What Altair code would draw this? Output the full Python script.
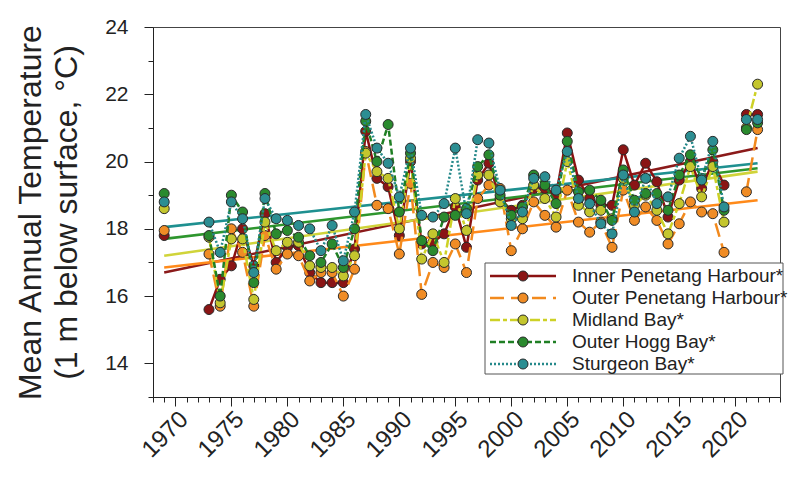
import altair as alt
import pandas as pd

FONT = "Liberation Sans"

years = [1969] + list(range(1973, 2020)) + [2021, 2022]

series_names = ["Inner Penetang Harbour*", "Outer Penetang Harbour*", "Midland Bay*",
                "Outer Hogg Bay*", "Sturgeon Bay*"]

inner = [17.8, 15.6, 16.5, 16.9, 18.0, 16.9, 18.45, 17.0,
         17.45, 17.5, 16.7, 16.4, 16.4, 16.4, 17.4, 20.9, 19.5, 19.25,
         17.8, 20.0, 17.55, 17.6, 17.85, 18.65, 17.45, 19.45, 19.95, 18.9,
         18.55, 18.7, 19.2, 19.2, 19.0, 20.85, 19.45, 18.9, 18.7, 18.7,
         20.35, 19.3, 19.95, 19.4, 18.35, 19.45, 20.0, 19.2, 20.0, 19.3,
         21.4, 21.4]
outer = [17.95, 17.25, 15.7, 18.0, 17.3, 15.7, 17.8, 16.8,
         17.25, 17.2, 16.45, 16.7, 16.7, 16.0, 16.8, 20.3, 18.7, 18.6,
         17.25, 19.35, 16.05, 17.0, 16.85, 17.55, 16.7, 18.9, 19.3, 19.2,
         17.35, 18.0, 18.8, 18.4, 18.05, 19.15, 18.2, 17.9, 18.2, 17.45,
         19.15, 18.25, 18.65, 18.25, 17.55, 18.15, 18.8, 18.5, 18.45, 17.3,
         19.1, 20.95]
midland = [18.6, 17.75, 15.8, 17.7, 17.7, 15.9, 18.2, 17.35,
           17.6, 17.6, 16.9, 16.85, 16.85, 16.6, 17.2, 20.25, 19.7, 19.5,
           18.0, 20.1, 17.1, 17.85, 17.0, 18.9, 17.95, 19.6, 19.6, 18.8,
           18.3, 18.3, 19.3, 18.9, 18.35, 20.0, 18.7, 18.5, 18.55, 18.3,
           19.5, 18.7, 19.0, 18.55, 17.85, 18.75, 19.85, 18.95, 19.85, 18.2,
           21.0, 22.3]
hogg = [19.05, 17.8, 16.0, 19.0, 18.5, 16.4, 19.05, 17.85,
        17.95, 17.75, 17.2, 17.0, 17.55, 16.85, 18.0, 21.2, 20.0, 21.1,
        18.5, 20.25, 17.65, 17.35, 18.35, 18.4, 18.6, 19.85, 20.2, 19.0,
        18.4, 18.65, 19.6, 19.3, 18.75, 20.6, 19.1, 19.15, 18.85, 18.25,
        19.75, 18.85, 19.05, 19.05, 18.55, 19.6, 20.2, 19.5, 20.35, 18.55,
        20.95, 21.15]
sturgeon = [18.8, 18.2, 17.3, 18.8, 18.3, 16.7, 18.9, 18.3,
            18.25, 18.1, 18.0, 17.35, 18.1, 17.05, 18.5, 21.4, 20.4, 19.95,
            18.95, 20.4, 18.4, 18.35, 18.75, 20.4, 18.45, 20.65, 20.55, 19.15,
            18.1, 18.5, 19.5, 19.55, 19.15, 20.3, 18.9, 18.75, 18.15, 17.85,
            19.6, 18.5, 19.5, 18.75, 18.95, 20.1, 20.75, 19.45, 20.6, 18.65,
            21.25, 21.25]

# trend line end points (1969 and 2022)
trend_years = [1969, 2022]
trend_start = [16.7, 16.85, 17.2, 17.7, 18.05]
trend_end = [20.4, 18.85, 19.7, 19.8, 19.95]

line_colors = ["#8B1111", "#F28A1E", "#CDD126", "#1F7F24", "#25898A"]
marker_colors = ["#8A1515", "#F08C25", "#C4C62E", "#2A8A2E", "#2C8E92"]
trend_colors = ["#8B1A1A", "#FF8A1A", "#D0D43A", "#2E962E", "#1E9090"]
dashes = [[1, 0], [14, 7], [10, 3, 4, 3], [6, 3], [2, 2]]

all_values = [inner, outer, midland, hogg, sturgeon]


def seg(y):
    if y < 1973:
        return "a"
    if y < 2020:
        return "b"
    return "c"


rows = []
for name, vals in zip(series_names, all_values):
    for yr, v in zip(years, vals):
        rows.append({"year": yr, "temp": v, "series": name, "seg": seg(yr)})
df = pd.DataFrame(rows)

trows = []
for name, a, b in zip(series_names, trend_start, trend_end):
    trows.append({"year": trend_years[0], "temp": a, "series": name})
    trows.append({"year": trend_years[1], "temp": b, "series": name})
tdf = pd.DataFrame(trows)

xscale = alt.Scale(domain=[1968, 2024], nice=False, zero=False)
yscale = alt.Scale(domain=[13, 24], nice=False, zero=False)

xaxis = alt.Axis(
    values=list(range(1968, 2025)),
    labelExpr="datum.value % 5 == 0 ? datum.value : ''",
    tickSize={"condition": {"test": "datum.value % 5 == 0", "value": 9}, "value": 5},
    labelAngle=-45, labelAlign="right", labelBaseline="top",
    labelFontSize=24, labelFont=FONT, labelColor="#222", labelPadding=1,
    labelOverlap=False, labelFlush=False,
    grid=False, title=None, domainColor="#222", tickColor="#222",
)
yaxis = alt.Axis(
    values=list(range(13, 25)),
    labelExpr="datum.value % 2 == 0 && datum.value >= 14 ? datum.value : ''",
    tickSize={"condition": {"test": "datum.value % 2 == 0", "value": 9}, "value": 5},
    labelFontSize=21, labelFont=FONT, labelColor="#222", labelPadding=16,
    labelOverlap=False, labelFlush=False,
    grid=False, domainColor="#222", tickColor="#222",
    title=["Mean Annual Temperature", "(1 m below surface, \u00b0C)"],
    titleFont=FONT, titleFontSize=32, titleFontWeight="normal", titleColor="#222",
    titlePadding=21, titleLineHeight=36,
)

X = alt.X("year:Q", scale=xscale, axis=xaxis)
Y = alt.Y("temp:Q", scale=yscale, axis=yaxis)

layers = []

trend = alt.Chart(tdf).mark_line(strokeWidth=2.6).encode(
    x=X, y=Y,
    color=alt.Color("series:N", scale=alt.Scale(domain=series_names, range=trend_colors), legend=None),
)
layers.append(trend)

for i, name in enumerate(series_names):
    sub = df[df["series"] == name]
    ln = alt.Chart(sub).mark_line(
        color=line_colors[i], strokeDash=dashes[i], strokeWidth=2.5
    ).encode(x=X, y=Y, detail="seg:N")
    pt = alt.Chart(sub).mark_circle(
        size=100, color=marker_colors[i], opacity=1, stroke="#2a2a2a", strokeWidth=1
    ).encode(x=X, y=Y)
    layers += [ln, pt]

# legend overlay
dummy = pd.DataFrame({"k": [0]})
box = alt.Chart(dummy).mark_rect(fill="white", stroke="#555", strokeWidth=1).encode(
    x=alt.value(332), x2=alt.value(630), y=alt.value(236), y2=alt.value(347)
)
layers.append(box)
for i, name in enumerate(series_names):
    yy = 249 + i * 22
    layers.append(alt.Chart(dummy).mark_rule(
        color=line_colors[i], strokeDash=dashes[i], strokeWidth=2.5
    ).encode(x=alt.value(337), x2=alt.value(403), y=alt.value(yy)))
    layers.append(alt.Chart(dummy).mark_circle(
        size=100, color=marker_colors[i], opacity=1, stroke="#2a2a2a", strokeWidth=1
    ).encode(x=alt.value(370), y=alt.value(yy)))
    layers.append(alt.Chart(dummy).mark_text(
        align="left", baseline="middle", fontSize=19, font=FONT, color="#222"
    ).encode(x=alt.value(419), y=alt.value(yy), text=alt.value(name)))

chart = alt.layer(*layers).properties(
    width=627, height=370,
    padding={"left": 145, "top": 19, "right": 12, "bottom": 73},
    autosize=alt.AutoSizeParams(type="none"),
    background="white",
).configure_view(stroke="#444", strokeWidth=1)

chart.save("out.html", embed_options={"renderer": "svg", "actions": False})
